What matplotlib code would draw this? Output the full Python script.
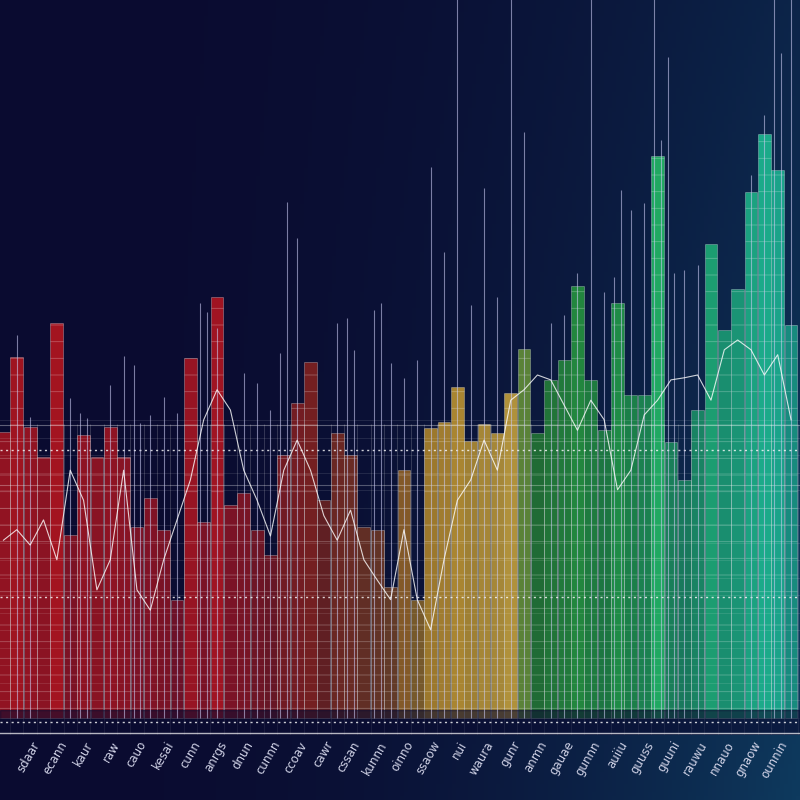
import numpy as np
import matplotlib
matplotlib.use('Agg')
import matplotlib.pyplot as plt
from matplotlib.colors import LinearSegmentedColormap, to_rgb

# bar heights, left to right
values = [40.9, 51.6, 41.6, 37.3, 56.4, 26.1, 40.4, 37.3, 41.6, 37.3,
          27.3, 31.4, 26.9, 16.9, 51.4, 28.0, 60.1, 30.4, 32.1, 26.9,
          23.3, 37.6, 45.0, 50.9, 31.1, 40.7, 37.6, 27.3, 26.9, 18.7,
          35.4, 16.9, 41.4, 42.3, 47.3, 39.6, 42.0, 40.7, 46.4, 52.7,
          40.7, 48.3, 51.1, 61.7, 48.3, 41.1, 59.3, 46.1, 46.1, 80.3,
          39.4, 34.0, 44.0, 67.7, 55.4, 61.3, 75.1, 83.4, 78.3, 56.1]

# thin white trace running over the bars
trace = [25.4, 26.9, 24.7, 28.3, 22.6, 35.4, 31.1, 18.3, 22.6, 35.4,
         18.3, 15.4, 22.6, 28.3, 34.0, 42.6, 46.9, 44.0, 35.4, 31.1,
         26.0, 35.4, 39.7, 35.4, 28.9, 25.4, 29.7, 22.6, 19.7, 16.9,
         26.9, 16.9, 12.6, 22.6, 31.1, 34.0, 39.7, 35.4, 45.4, 46.9,
         49.0, 48.3, 44.7, 41.1, 45.4, 42.6, 32.6, 35.4, 43.3, 45.4,
         48.3, 48.6, 49.0, 45.4, 52.6, 54.0, 52.6, 49.0, 51.9, 42.6]

# high/low spikes: bar they belong to and how far up they reach
spike_bar = [1, 2, 5, 6, 6, 8, 9, 10, 10, 11, 12, 13, 15, 15, 16, 18, 19, 20,
             21, 21, 22, 25, 26, 26, 28, 28, 29, 30, 31, 32, 33, 34, 35, 36,
             37, 38, 39, 41, 42, 43, 44, 45, 46, 46, 47, 48, 49, 49, 50, 50,
             51, 52, 56, 57, 58, 58, 59]
spike_top = [54.7, 43.0, 45.7, 43.6, 42.9, 47.6, 51.7, 50.4, 42.1, 43.3, 45.9,
             43.6, 59.3, 58.0, 55.7, 49.3, 47.9, 44.0, 52.1, 73.7, 68.6, 56.4,
             57.1, 52.6, 58.3, 59.3, 50.7, 48.6, 51.1, 78.7, 66.6, 103, 59.0,
             75.7, 60.1, 103, 83.7, 56.4, 57.6, 63.6, 103, 60.9, 63.0, 75.4,
             72.6, 73.6, 103, 82.6, 94.4, 63.6, 64.0, 64.7, 77.6, 86.1, 103,
             95.0, 103]

labels = ['sdaar', 'ecann', 'kaur', 'raw', 'cauo', 'kesai', 'cunn', 'anrgs',
          'dnun', 'cunnn', 'ccoav', 'cawr', 'cssan', 'kunnn', 'oinno',
          'ssaow', 'nui', 'waura', 'gunr', 'anmn', 'gauae', 'gunnn', 'auiiu',
          'guuss', 'guuni', 'rauwu', 'nnauo', 'gnaow', 'ounnin']

n = len(values)
x = np.arange(n)
bg = np.array(to_rgb('#0a0b30'))

fig = plt.figure(figsize=(8, 8), dpi=100)

# background gradient (navy -> deep blue on the right)
bgax = fig.add_axes([0, 0, 1, 1], zorder=-2)
gx, gy = np.meshgrid(np.linspace(0, 1, 200), np.linspace(0, 1, 200))
right = np.array(to_rgb('#0e3a5e'))
w = (gx ** 2.4) * (0.55 + 0.45 * gy)
img = bg[None, None, :] * (1 - w[..., None]) + right[None, None, :] * w[..., None]
bgax.imshow(img, aspect='auto', extent=[0, 1, 0, 1], origin='upper')
bgax.axis('off')

ax = fig.add_axes([0, 65 / 800, 1, 735 / 800])
ax.set_facecolor('none')
ax.set_xlim(-0.26, 59.67)
ax.set_ylim(-2.43, 102.57)
ax.axis('off')

cmap = LinearSegmentedColormap.from_list('spec', [
    (0.0, '#c8161c'), (0.28, '#bc1620'), (0.40, '#8e261c'), (0.48, '#9a4e20'),
    (0.53, '#d4a028'), (0.65, '#e8c040'), (0.67, '#2a9036'), (0.78, '#22a44a'),
    (0.86, '#1fb070'), (1.0, '#1aa890')])

vals = np.array(values)
shade = 0.55 + 0.45 * (vals - vals.min()) / (vals.max() - vals.min())
colors = []
for i in range(n):
    c = np.array(cmap(i / (n - 1))[:3])
    colors.append(bg + (c - bg) * shade[i])

plt.rcParams['hatch.linewidth'] = 0.6
ax.bar(x, values, width=0.96, color=colors, edgecolor=(1, 1, 1, 0.28),
       linewidth=0.7, hatch='-', zorder=2)

# lower grid
for yv in np.arange(0, 43, 2.5):
    ax.axhline(yv, color='white', alpha=0.12, lw=0.6, zorder=3)
ax.vlines(np.arange(n + 1) - 0.5, -2.4, 42, color='white', alpha=0.2, lw=0.6, zorder=3)
ax.axhline(41.9, color='white', alpha=0.35, lw=0.8, zorder=3)
ax.axhline(33.3, color='white', alpha=0.3, lw=0.8, zorder=3)
for yv in [38.3, 17.3, -0.6]:
    ax.axhline(yv, color='white', alpha=0.8, lw=1.0, ls=(0, (1.5, 2.5)), zorder=4)
ax.axhline(-2.2, color='white', alpha=0.7, lw=1.0, zorder=4)
ax.axhspan(-2.43, 1.2, color='#0a0b30', alpha=0.6, zorder=3)

# spikes, spread within their bar when several share one
sb = np.array(spike_bar)
for b in np.unique(sb):
    idx = np.where(sb == b)[0]
    offs = np.linspace(-0.25, 0.25, len(idx)) if len(idx) > 1 else [0.0]
    for o, k in zip(offs, idx):
        ax.vlines(b + o, 0, spike_top[k], color='#c8c8f0', alpha=0.6, lw=0.8, zorder=5)

ax.plot(x, trace, color='white', lw=0.8, alpha=0.8, zorder=6)

for j, lab in enumerate(labels):
    ax.text(2 * j + 2.1, -3.0, lab, rotation=60, ha='right', va='top',
            rotation_mode='anchor', color='#d0d2e6', fontsize=8.5,
            clip_on=False)

fig.savefig('out.png', dpi=100, facecolor='#0a0b30')
